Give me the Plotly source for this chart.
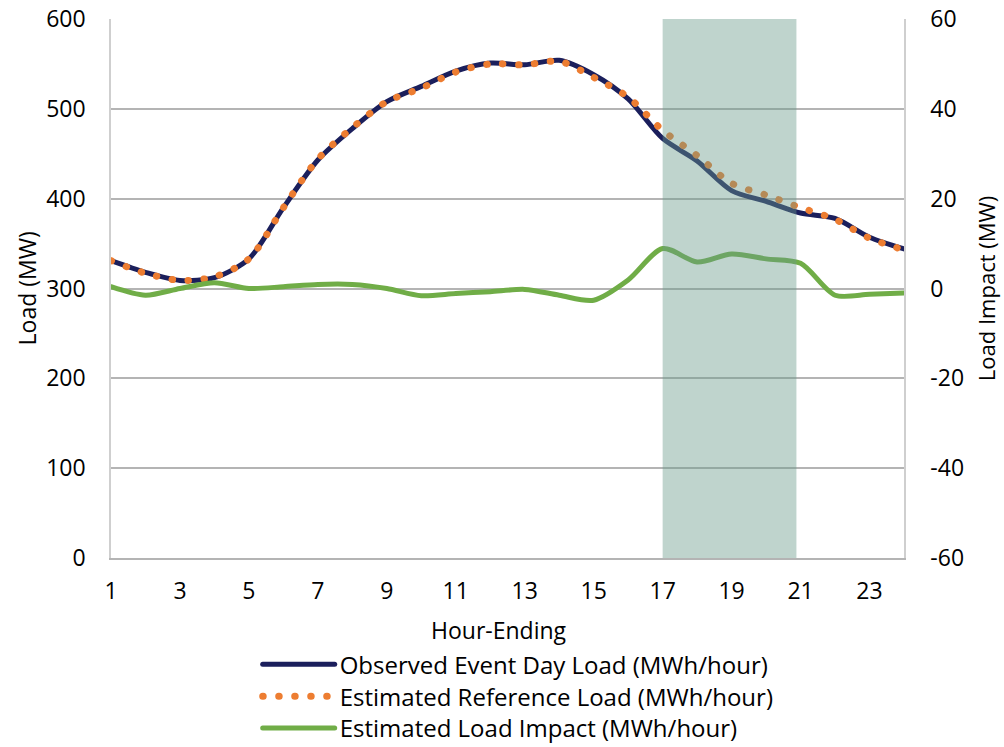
import plotly.graph_objects as go

# Hourly event-day profile
hours = list(range(1, 25))
observed_load = [331, 318, 309, 312, 333, 390, 443, 478, 508, 525, 542, 551,
                 549, 554, 538, 511, 467, 442, 409, 397, 384, 378, 357, 344]
reference_load = [331, 317, 309, 313, 333, 390, 444, 479, 508, 523, 541, 550,
                  549, 553, 535, 513, 476, 448, 417, 404, 390, 377, 356, 343]
load_impact = [0.4, -1.5, 0.0, 1.3, 0.0, 0.4, 0.9, 0.9, 0.0, -1.6, -1.1, -0.7,
               -0.2, -1.5, -2.6, 1.9, 8.9, 5.9, 7.7, 6.6, 5.6, -1.5, -1.3, -1.0]

x_ticks = [1, 3, 5, 7, 9, 11, 13, 15, 17, 19, 21, 23]
load_ticks = [0, 100, 200, 300, 400, 500, 600]
impact_ticks = [-60, -40, -20, 0, 20, 40, 60]
event_window = (17, 20.88)

FONT = "Open Sans"
NAVY = "#1b1f5c"
ORANGE = "#ed7d31"
GREEN = "#70ad47"
GRID = "#b4b4b4"
EDGE = "#cfcfcf"

fig = go.Figure()

fig.add_trace(go.Scatter(
    x=hours, y=observed_load, mode="lines", legend="legend",
    name="Observed Event Day Load (MWh/hour)",
    line=dict(color=NAVY, width=5, shape="spline", smoothing=0.8),
))
fig.add_trace(go.Scatter(
    x=hours, y=reference_load, mode="lines", legend="legend2",
    name="Estimated Reference Load (MWh/hour)",
    line=dict(color=ORANGE, width=7, shape="spline", smoothing=0.8,
              dash="0.5px,15.5px"),
))
fig.add_trace(go.Scatter(
    x=hours, y=load_impact, mode="lines", yaxis="y2", legend="legend3",
    name="Estimated Load Impact (MWh/hour)",
    line=dict(color=GREEN, width=5, shape="spline", smoothing=0.8),
))

# Event period shading
fig.add_shape(
    type="rect", xref="x", yref="y",
    x0=event_window[0], x1=event_window[1], y0=0, y1=600,
    fillcolor="rgba(106,155,139,0.43)", line=dict(width=0), layer="above",
)


def legend_row(y):
    return dict(
        orientation="v", x=0.185, xanchor="left", y=y, yanchor="middle",
        font=dict(family=FONT, size=24, color="#000000"),
        itemwidth=72, bgcolor="rgba(0,0,0,0)", borderwidth=0,
    )


fig.update_layout(
    width=1004, height=747,
    margin=dict(l=111, r=100, t=19, b=189, pad=0, autoexpand=False),
    paper_bgcolor="white", plot_bgcolor="white",
    font=dict(family=FONT, size=23, color="#000000"),
    showlegend=True,
    legend=legend_row(-0.1980),
    legend2=legend_row(-0.2574),
    legend3=legend_row(-0.3160),
    xaxis=dict(
        range=[1, 24], tickmode="array", tickvals=x_ticks,
        ticktext=[str(v) for v in x_ticks],
        showgrid=False, zeroline=False, automargin=False,
        showline=True, linecolor=GRID, linewidth=1.5,
        ticks="", ticklabelstandoff=12,
    ),
    yaxis=dict(
        range=[0, 600], tickmode="array", tickvals=load_ticks,
        ticktext=[str(v) for v in load_ticks],
        showgrid=True, gridcolor=GRID, gridwidth=1.5, zeroline=False,
        automargin=False,
        showline=True, linecolor=EDGE, linewidth=1.5,
        ticks="", ticklabelstandoff=19,
    ),
    yaxis2=dict(
        range=[-60, 60], tickmode="array", tickvals=impact_ticks,
        ticktext=[str(v) for v in impact_ticks],
        overlaying="y", side="right", showgrid=False, zeroline=False,
        automargin=False,
        showline=True, linecolor=EDGE, linewidth=1.5,
        ticks="", ticklabelstandoff=20,
    ),
    annotations=[
        dict(text="Hour-Ending", xref="paper", yref="paper", x=0.489, y=-0.1330,
             showarrow=False, xanchor="center", yanchor="middle",
             font=dict(family=FONT, size=23)),
        dict(text="Load (MW)", xref="paper", yref="paper", x=-0.1060, y=0.5,
             showarrow=False, textangle=-90, xanchor="center", yanchor="middle",
             font=dict(family=FONT, size=23)),
        dict(text="Load Impact (MW)", xref="paper", yref="paper", x=1.1030, y=0.5,
             showarrow=False, textangle=-90, xanchor="center", yanchor="middle",
             font=dict(family=FONT, size=22)),
    ],
)

# Round line caps turn the short dashes of the reference load into dots
post_js = (
    "document.querySelectorAll('path.js-line').forEach(function(p){"
    "p.style.strokeLinecap='round';});"
)

fig.write_html("out.html", post_script=post_js)
